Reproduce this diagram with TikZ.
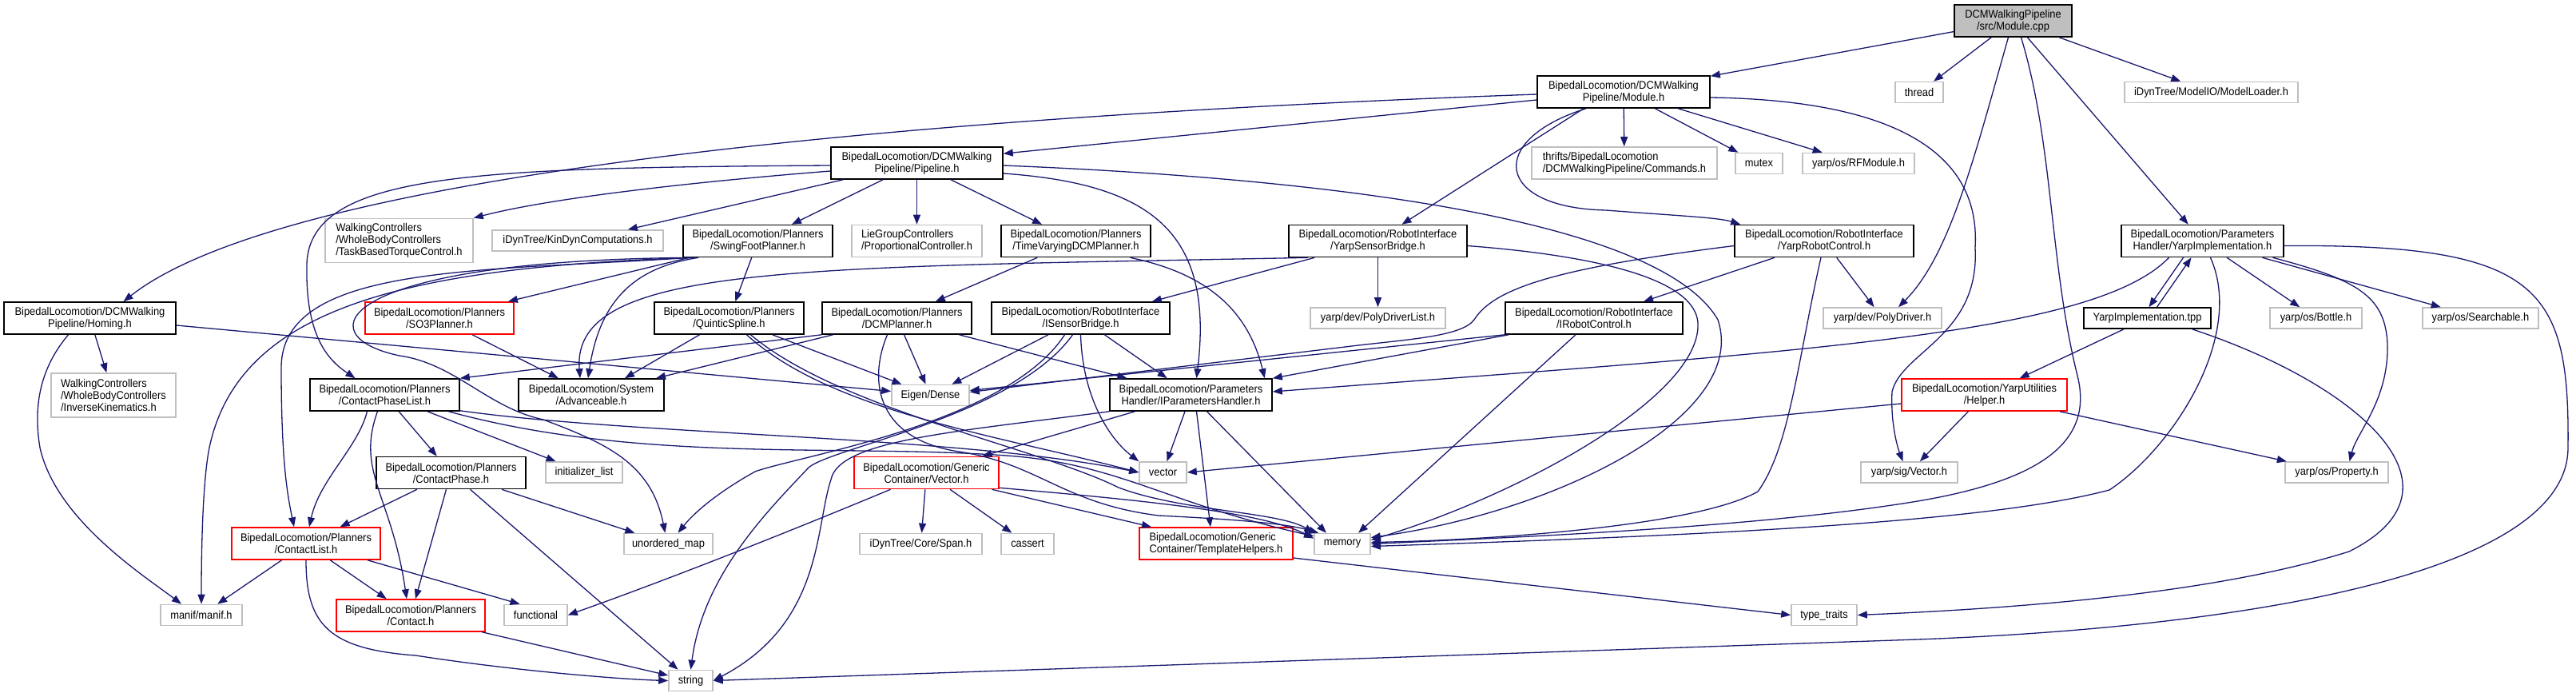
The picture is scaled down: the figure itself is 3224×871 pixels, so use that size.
\documentclass[tikz,border=0pt]{standalone}
\usepackage{fontspec}
\newfontfamily\dotfont[FakeStretch=0.92]{Liberation Sans}
\usepackage{tikz}
\usetikzlibrary{arrows.meta}
\definecolor{edgeblue}{HTML}{191970}
\definecolor{extgray}{HTML}{BFBFBF}
\definecolor{rootgray}{HTML}{BFBFBF}
\definecolor{cutred}{HTML}{FF0000}

\begin{document}
\begin{tikzpicture}[x=1pt,y=-1pt,
  hdr/.style={draw=black,fill=white,line width=1.6pt,inner sep=0pt,align=center,minimum height=40pt,font=\dotfont\fontsize{14}{15}\selectfont},
  sys/.style={hdr,draw=extgray,align=left},
  cut/.style={hdr,draw=cutred},
  src/.style={hdr,fill=rootgray},
  h1/.style={minimum height=26pt},
  h3/.style={minimum height=55pt},
  incl/.style={draw=edgeblue,line width=1.3pt,-{Triangle[length=12pt,width=9pt]}}]
  \useasboundingbox (0,0) rectangle (3224,871);

  \node[src,minimum width=147pt] (cpp) at (2519.5,26) {DCMWalkingPipeline\\/src/Module.cpp};

  \node[hdr,minimum width=216pt] (modh) at (2032,115) {BipedalLocomotion/DCMWalking\\Pipeline/Module.h};
  \node[sys,h1,minimum width=60pt] (thr) at (2402,115.5) {thread};
  \node[sys,h1,minimum width=217pt] (mload) at (2767.5,115.5) {iDynTree/ModelIO/ModelLoader.h};

  \node[hdr,minimum width=215pt] (pipe) at (1147.5,204) {BipedalLocomotion/DCMWalking\\Pipeline/Pipeline.h};
  \node[sys,minimum width=232pt] (cmds) at (2033,204) {thrifts/BipedalLocomotion\\/DCMWalkingPipeline/Commands.h};
  \node[sys,h1,minimum width=59pt] (mtx) at (2201.5,204.5) {mutex};
  \node[sys,h1,minimum width=140pt] (rfm) at (2326,204.5) {yarp/os/RFModule.h};

  \node[sys,h3,minimum width=185pt] (tqc) at (499.5,301) {WalkingControllers\\/WholeBodyControllers\\/TaskBasedTorqueControl.h};
  \node[sys,h1,minimum width=214pt] (kdyn) at (723,301) {iDynTree/KinDynComputations.h};
  \node[hdr,minimum width=187pt] (swing) at (948.5,301.5) {BipedalLocomotion/Planners\\/SwingFootPlanner.h};
  \node[sys,minimum width=163pt] (pctl) at (1147.5,301.5) {LieGroupControllers\\/ProportionalController.h};
  \node[hdr,minimum width=187pt] (tvdcm) at (1346.5,301.5) {BipedalLocomotion/Planners\\/TimeVaryingDCMPlanner.h};
  \node[hdr,minimum width=223pt] (ysb) at (1724.5,301.5) {BipedalLocomotion/RobotInterface\\/YarpSensorBridge.h};
  \node[hdr,minimum width=224pt] (yrc) at (2283,301.5) {BipedalLocomotion/RobotInterface\\/YarpRobotControl.h};
  \node[hdr,minimum width=203pt] (yimpl) at (2756.5,301.5) {BipedalLocomotion/Parameters\\Handler/YarpImplementation.h};

  \node[hdr,minimum width=215pt] (homing) at (112.5,398) {BipedalLocomotion/DCMWalking\\Pipeline/Homing.h};
  \node[cut,minimum width=186pt] (so3) at (550,398) {BipedalLocomotion/Planners\\/SO3Planner.h};
  \node[hdr,minimum width=187pt] (qspl) at (912.5,398) {BipedalLocomotion/Planners\\/QuinticSpline.h};
  \node[hdr,minimum width=187pt] (dcmp) at (1122.5,398) {BipedalLocomotion/Planners\\/DCMPlanner.h};
  \node[hdr,minimum width=223pt] (isb) at (1352.5,398) {BipedalLocomotion/RobotInterface\\/ISensorBridge.h};
  \node[sys,h1,minimum width=169pt] (pdl) at (1724.5,398) {yarp/dev/PolyDriverList.h};
  \node[hdr,minimum width=222pt] (irc) at (1995,398) {BipedalLocomotion/RobotInterface\\/IRobotControl.h};
  \node[sys,h1,minimum width=148pt] (pdrv) at (2356,398) {yarp/dev/PolyDriver.h};
  \node[hdr,h1,minimum width=159pt] (ytpp) at (2687.5,398) {YarpImplementation.tpp};
  \node[sys,h1,minimum width=115pt] (bottle) at (2898.5,398) {yarp/os/Bottle.h};
  \node[sys,h1,minimum width=145pt] (search) at (3104.5,398) {yarp/os/Searchable.h};

  \node[sys,h3,minimum width=156pt] (ik) at (142,494.5) {WalkingControllers\\/WholeBodyControllers\\/InverseKinematics.h};
  \node[hdr,minimum width=187pt] (cpl) at (481.5,494) {BipedalLocomotion/Planners\\/ContactPhaseList.h};
  \node[hdr,minimum width=182pt] (adv) at (740,494) {BipedalLocomotion/System\\/Advanceable.h};
  \node[sys,h1,minimum width=97pt] (eigen) at (1164.5,494.5) {Eigen/Dense};
  \node[hdr,minimum width=203pt] (iph) at (1490.5,494) {BipedalLocomotion/Parameters\\Handler/IParametersHandler.h};
  \node[cut,minimum width=207pt] (helper) at (2483.5,494) {BipedalLocomotion/YarpUtilities\\/Helper.h};

  \node[hdr,minimum width=187pt] (cph) at (564.5,591.5) {BipedalLocomotion/Planners\\/ContactPhase.h};
  \node[sys,h1,minimum width=96pt] (ilist) at (731,591) {initializer\_list};
  \node[cut,minimum width=181pt] (gvec) at (1159.5,591.5) {BipedalLocomotion/Generic\\Container/Vector.h};
  \node[sys,h1,minimum width=59pt] (vec) at (1455.5,591) {vector};
  \node[sys,h1,minimum width=121pt] (ysvec) at (2389.5,591) {yarp/sig/Vector.h};
  \node[sys,h1,minimum width=129pt] (prop) at (2924.5,591) {yarp/os/Property.h};

  \node[cut,minimum width=186pt] (clist) at (383,680) {BipedalLocomotion/Planners\\/ContactList.h};
  \node[sys,h1,minimum width=111pt] (umap) at (836.5,680.5) {unordered\_map};
  \node[sys,h1,minimum width=153pt] (span) at (1152.5,680.5) {iDynTree/Core/Span.h};
  \node[sys,h1,minimum width=66pt] (cass) at (1286,680.5) {cassert};
  \node[cut,align=left,minimum width=192pt] (tmpl) at (1522,680) {BipedalLocomotion/Generic\\Container/TemplateHelpers.h};
  \node[sys,h1,minimum width=70pt] (mem) at (1680,680.5) {memory};

  \node[sys,h1,minimum width=102pt] (manif) at (252,769.5) {manif/manif.h};
  \node[cut,minimum width=186pt] (contact) at (514,770) {BipedalLocomotion/Planners\\/Contact.h};
  \node[sys,h1,minimum width=79pt] (func) at (670.5,769.5) {functional};
  \node[sys,h1,minimum width=82pt] (ttr) at (2283,769.5) {type\_traits};

  \node[sys,h1,minimum width=55pt] (str) at (864.5,851.5) {string};

  \draw[incl] (cpp) -- (modh);
  \draw[incl] (cpp) -- (thr);
  \draw[incl] (cpp) -- (mload);
  \draw[incl] (cpp) -- (yimpl);
  \draw[incl] ([xshift=-6pt]cpp.south) .. controls (2470,200) and (2440,320) .. ([xshift=20pt]pdrv.north);
  \draw[incl] ([xshift=10pt]cpp.south) .. controls (2570,180) and (2565,330) .. (2600,470) .. controls (2620,550) and (2560,600) .. (2400,627) .. controls (2200,660) and (1900,672) .. (mem.east);

  \draw[incl] ([yshift=-10pt]modh.west) -- ([yshift=-9pt]pipe.north east);
  \draw[incl] ([yshift=-3pt]modh.west) .. controls (1300,140) and (380,200) .. ([xshift=42pt]homing.north);
  \draw[incl] (modh) -- (cmds);
  \draw[incl] (modh) -- (mtx);
  \draw[incl] (modh) -- (rfm);
  \draw[incl] ([xshift=-50pt]modh.south) -- ([xshift=30pt]ysb.north);
  \draw[incl] ([xshift=-47pt]modh.south) .. controls (1860,175) and (1870,260) .. (2010,263) .. controls (2100,270) and (2150,272) .. ([xshift=8pt]yrc.north west);
  \draw[incl] ([yshift=-7pt]modh.east) .. controls (2350,125) and (2480,180) .. (2472,310) .. controls (2478,420) and (2380,440) .. (2368,490) .. controls (2366,530) and (2375,560) .. ([xshift=-8pt]ysvec.north);

  \draw[incl] (pipe) -- (swing);
  \draw[incl] (pipe) -- (pctl);
  \draw[incl] (pipe) -- (tvdcm);
  \draw[incl] ([xshift=16pt]pipe.south west) -- ([xshift=-45pt]kdyn.north east);
  \draw[incl] ([yshift=-10pt]pipe.west) .. controls (900,225) and (700,245) .. (tqc.north east);
  \draw[incl] ([yshift=-3pt]pipe.west) .. controls (600,210) and (388,215) .. (384,330) .. controls (382,420) and (410,450) .. ([xshift=-37pt]cpl.north);
  \draw[incl] ([yshift=-13pt]pipe.east) .. controls (1440,230) and (1520,290) .. ([xshift=7pt]iph.north);
  \draw[incl] ([yshift=-3pt]pipe.east) .. controls (1700,225) and (2080,280) .. (2150,400) .. controls (2190,520) and (1950,640) .. ([yshift=8pt]mem.east);

  \draw[incl] (swing) -- (qspl);
  \draw[incl] (swing) -- (so3);
  \draw[incl] ([xshift=20pt]swing.south west) .. controls (790,335) and (750,380) .. ([xshift=-4pt]adv.north);
  \draw[incl] ([xshift=10pt]swing.south west) .. controls (600,340) and (352,330) .. (352,460) .. controls (352,580) and (360,620) .. ([xshift=-15pt]clist.north);
  \draw[incl] ([xshift=10pt]swing.south west) .. controls (520,335) and (300,380) .. (262,560) .. controls (254,600) and (252,680) .. (manif.north);
  \draw[incl] ([xshift=15pt]swing.south west) .. controls (420,325) and (380,420) .. (500,445) .. controls (570,455) and (610,510) .. (680,525) .. controls (760,555) and (815,580) .. ([xshift=-4pt]umap.north);

  \draw[incl] (tvdcm) -- (dcmp);
  \draw[incl] ([xshift=68pt]tvdcm.south) .. controls (1500,340) and (1560,380) .. ([xshift=-10pt]iph.north east);

  \draw[incl] ([xshift=33pt]ysb.south west) -- ([xshift=-23pt]isb.north east);
  \draw[incl] (ysb) -- (pdl);
  \draw[incl] ([xshift=25pt]ysb.south west) .. controls (1000,335) and (715,330) .. ([xshift=-14pt]adv.north);
  \draw[incl] ([yshift=-6pt]ysb.east) .. controls (2000,320) and (2130,350) .. (2125,410) .. controls (2120,500) and (1900,620) .. ([yshift=5pt]mem.east);

  \draw[incl] (yrc) -- (irc);
  \draw[incl] (yrc) -- (pdrv);
  \draw[incl] ([yshift=-6pt]yrc.west) .. controls (1950,335) and (1870,360) .. (1845,400) .. controls (1830,420) and (1770,424) .. (1700,432) -- ([yshift=4pt]eigen.east);
  \draw[incl] ([xshift=-4pt]yrc.south) .. controls (2250,450) and (2240,560) .. (2200,615) .. controls (2120,660) and (1850,676) .. ([yshift=2pt]mem.east);

  \draw[incl] ([xshift=-24pt]yimpl.south) -- ([xshift=2pt]ytpp.north);
  \draw[incl] (yimpl) -- (bottle);
  \draw[incl] (yimpl) -- (search);
  \draw[incl] ([xshift=88pt]yimpl.south) .. controls (2950,350) and (2985,370) .. (2988,430) .. controls (2990,500) and (2950,540) .. ([xshift=16pt]prop.north);
  \draw[incl] ([xshift=-42pt]yimpl.south) .. controls (2620,420) and (2250,440) .. ([yshift=4pt]iph.east);
  \draw[incl] ([xshift=10pt]yimpl.south) .. controls (2810,420) and (2720,560) .. (2640,613) .. controls (2500,650) and (2200,668) .. ([yshift=-3pt]mem.east);
  \draw[incl] ([yshift=-6pt]yimpl.east) .. controls (3180,305) and (3216,360) .. (3214,560) .. controls (3214,720) and (2800,785) .. (2400,800) -- (str.east);

  \draw[incl] ([xshift=12pt]ytpp.north) -- ([xshift=-14pt]yimpl.south);
  \draw[incl] (ytpp) -- (helper);
  \draw[incl] ([xshift=56pt]ytpp.south) .. controls (2950,480) and (3100,610) .. (2940,690) .. controls (2780,740) and (2550,760) .. (ttr.east);

  \draw[incl] (homing) -- (ik);
  \draw[incl] ([xshift=-27pt]homing.south) .. controls (55,455) and (40,500) .. (50,560) .. controls (70,650) and (180,720) .. ([xshift=-25pt]manif.north);
  \draw[incl] ([yshift=-9pt]homing.east) -- ([yshift=5pt]eigen.west);

  \draw[incl] (so3) -- (adv);

  \draw[incl] ([xshift=-37pt]qspl.south) -- ([xshift=42pt]adv.north);
  \draw[incl] (qspl) -- (eigen);
  \draw[incl] ([xshift=22pt]qspl.south) .. controls (1040,515) and (1250,545) .. (vec.west);
  \draw[incl] ([xshift=27pt]qspl.south) .. controls (1050,512) and (1300,560) .. (1400,610) .. controls (1480,640) and (1600,640) .. (mem.north west);

  \draw[incl] (dcmp.south west) -- (cpl.north east);
  \draw[incl] ([xshift=-80pt]dcmp.south) -- ([xshift=81pt]adv.north);
  \draw[incl] (dcmp) -- (eigen);
  \draw[incl] ([xshift=78pt]dcmp.south) -- ([xshift=-80pt]iph.north);
  \draw[incl] ([xshift=-12pt]dcmp.south) .. controls (1085,480) and (1100,550) .. (1200,565) .. controls (1300,580) and (1330,630) .. (1450,645) .. controls (1550,650) and (1610,655) .. ([xshift=6pt]mem.north west);

  \draw[incl] (isb) -- (eigen);
  \draw[incl] (isb) -- (iph);
  \draw[incl] (isb.south) .. controls (1355,500) and (1390,550) .. (vec.north west);
  \draw[incl] ([xshift=-20pt]isb.south) .. controls (1260,530) and (1000,570) .. (945,590) .. controls (900,615) and (870,640) .. ([xshift=12pt]umap.north);
  \draw[incl] ([xshift=-10pt]isb.south) .. controls (1270,520) and (1040,560) .. (1012,585) .. controls (960,640) and (880,720) .. (str.north);

  \draw[incl] (irc.south west) -- ([yshift=6pt]eigen.east);
  \draw[incl] ([xshift=5pt]irc.south west) -- (iph.north east);
  \draw[incl] ([xshift=-23pt]irc.south) -- ([xshift=20pt]mem.north);

  \draw[incl] (iph) -- (vec);
  \draw[incl] ([xshift=20pt]iph.south) -- ([xshift=-20pt]mem.north);
  \draw[incl] ([xshift=-70pt]iph.south) -- ([xshift=70pt]gvec.north);
  \draw[incl] ([xshift=7pt]iph.south) -- ([xshift=-7pt]tmpl.north);
  \draw[incl] (iph.south west) .. controls (1200,540) and (1050,550) .. (1040,600) .. controls (1020,660) and (1030,780) .. (str.east);

  \draw[incl] (helper) -- (ysvec);
  \draw[incl] (helper) -- (prop);
  \draw[incl] ([yshift=-11pt]helper.west) -- (vec.east);

  \draw[incl] (cpl) -- (cph);
  \draw[incl] (cpl) -- (ilist);
  \draw[incl] ([xshift=-22pt]cpl.south) .. controls (448,560) and (400,600) .. ([xshift=4pt]clist.north);
  \draw[incl] ([xshift=-9pt]cpl.south) .. controls (445,590) and (490,620) .. ([xshift=-5pt]contact.north);
  \draw[incl] ([yshift=1pt]cpl.south east) .. controls (800,545) and (1200,545) .. (vec.west);
  \draw[incl] ([xshift=80pt]cpl.south) .. controls (800,580) and (1050,555) .. (1260,570) .. controls (1400,580) and (1460,630) .. ([yshift=-4pt]mem.north west);

  \draw[incl] (gvec) -- (span);
  \draw[incl] (gvec) -- (cass);
  \draw[incl] ([xshift=82pt]gvec.south) -- ([xshift=-81pt]tmpl.north);
  \draw[incl] ([yshift=2pt]gvec.south east) .. controls (1420,625) and (1580,640) .. ([yshift=-7pt]mem.north west);
  \draw[incl] ([xshift=-45pt]gvec.south) .. controls (1000,660) and (850,720) .. (func.east);

  \draw[incl] ([yshift=-18pt]tmpl.east) -- (ttr.west);

  \draw[incl] (cph) -- (clist);
  \draw[incl] ([xshift=-6pt]cph.south) -- ([xshift=6pt]contact.north);
  \draw[incl] (cph) -- (umap);
  \draw[incl] (cph) -- (str);

  \draw[incl] (clist) -- (manif);
  \draw[incl] (clist) -- (contact);
  \draw[incl] ([xshift=77pt]clist.south) -- ([xshift=-20pt]func.north);
  \draw[incl] (clist.south) .. controls (383,780) and (410,812) .. (520,820) .. controls (650,840) and (780,850) .. (str.west);

  \draw[incl] (contact) -- (str);
\end{tikzpicture}
\end{document}
